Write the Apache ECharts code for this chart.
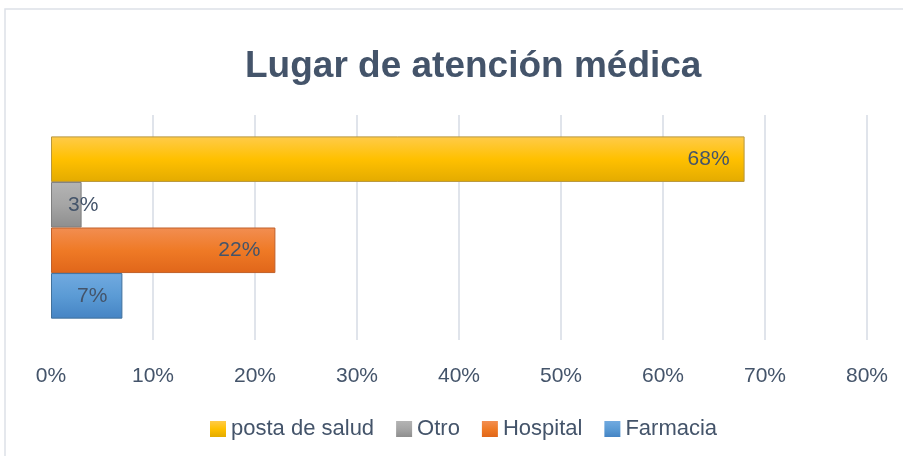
<!DOCTYPE html>
<html>
<head>
<meta charset="utf-8">
<script src="https://cdn.jsdelivr.net/npm/echarts@6/dist/echarts.min.js"></script>
<style>
  html, body { margin: 0; padding: 0; background: #fff; }
  #chart { width: 903px; height: 456px; }
</style>
</head>
<body>
<div id="chart"></div>
<script>
const categories = ['']
const seriesNames = ['posta de salud', 'Otro', 'Hospital', 'Farmacia']
const seriesValues = [68, 3, 22, 7]
const xTicks = [0, 10, 20, 30, 40, 50, 60, 70, 80]

// colores tipo Excel (arriba claro, abajo oscuro)
const fills = [
  ['#ffcb4a', '#ffc000', '#e3ab00'],
  ['#b4b4b4', '#a5a5a5', '#8e8e8e'],
  ['#f28e52', '#ef7a26', '#e0661a'],
  ['#71aae0', '#5b9bd5', '#4584c4'],
]
const borders = ['#b8973d', '#7f7f7f', '#c0602a', '#41719c']
const textColor = '#44546A'
const font = 'Liberation Sans'

function grad(c) {
  return new echarts.graphic.LinearGradient(0, 0, 0, 1, [
    { offset: 0, color: c[0] },
    { offset: 0.5, color: c[1] },
    { offset: 1, color: c[2] },
  ])
}

const chart = echarts.init(document.getElementById('chart'))
chart.setOption({
  animation: false,
  title: {
    text: 'Lugar de atención médica',
    left: 240,
    top: 43,
    textStyle: { fontFamily: font, fontSize: 37, fontWeight: 'bold', color: textColor },
  },
  graphic: [
    {
      type: 'rect',
      shape: { x: 5, y: 9, width: 1000, height: 1000 },
      style: { fill: 'none', stroke: '#dde1e8', lineWidth: 1.5 },
      silent: true,
    },
  ],
  legend: {
    data: seriesNames,
    left: 205,
    top: 413,
    itemWidth: 16,
    itemHeight: 16,
    itemGap: 22,
    icon: 'rect',
    itemStyle: { borderWidth: 0 },
    textStyle: { fontFamily: font, fontSize: 22, color: textColor },
  },
  grid: { left: 51, right: 36, top: 115, bottom: 116, containLabel: false },
  xAxis: {
    type: 'value',
    min: 0,
    max: 80,
    interval: 10,
    axisLine: { show: false },
    axisTick: { show: false },
    axisLabel: {
      margin: 26,
      fontFamily: font,
      fontSize: 21,
      color: textColor,
      formatter: (v) => v + '%',
    },
    splitLine: {
      lineStyle: {
        width: 2,
        color: xTicks.map((t) => (t === 0 ? 'rgba(0,0,0,0)' : '#e0e4eb')),
      },
    },
  },
  yAxis: {
    type: 'category',
    data: categories,
    inverse: true,
    axisLine: { show: false },
    axisTick: { show: false },
    axisLabel: { show: false },
  },
  series: seriesNames.map((name, i) => ({
    name: name,
    type: 'bar',
    barGap: '0%',
    barCategoryGap: '19%',
    itemStyle: { color: grad(fills[i]), borderColor: borders[i], borderWidth: 1 },
    label: {
      show: true,
      position: 'insideRight',
      distance: 15,
      fontFamily: font,
      fontSize: 21,
      color: textColor,
      formatter: '{c}%',
    },
    data: [
      seriesValues[i] < 5
        ? { value: seriesValues[i], label: { position: [17, '50%'], align: 'left', verticalAlign: 'middle' } }
        : seriesValues[i],
    ],
  })),
})
</script>
</body>
</html>
